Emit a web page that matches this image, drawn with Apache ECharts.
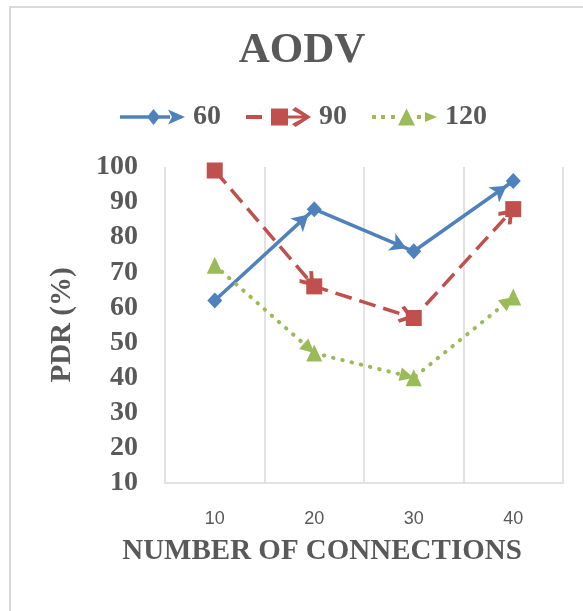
<!DOCTYPE html>
<html>
<head>
<meta charset="utf-8">
<script src="https://cdn.jsdelivr.net/npm/echarts@6/dist/echarts.min.js"></script>
<style>
  html, body { margin: 0; padding: 0; background: #ffffff; }
  #chart { width: 583px; height: 611px; }
</style>
</head>
<body>
<div id="chart"></div>
<script>
// Packet delivery ratio for AODV, by number of connections and node count
const categories = ['10', '20', '30', '40'];
const seriesNames = ['60', '90', '120'];
const pdr60 = [62, 88, 76, 96];
const pdr90 = [99, 66, 57, 88];
const pdr120 = [72, 47, 40, 63];
const yTicks = { min: 10, max: 100, step: 10 };

const TEXT = '#595959';
const GRID = '#d9d9d9';
const SERIF = '"Liberation Serif", "Times New Roman", serif';

// legend glyphs: line + marker + arrowhead, drawn in a 65 x 20 box
const corners = 'M0 0 L0.01 0 L0 0.01 Z M65 20 L64.99 20 L65 19.99 Z ';
const legendIcons = {
  '60': 'path://' + corners +
    'M0 8.3 H50 V11.7 H0 Z M33.5 2 L40 10 L33.5 18 L27 10 Z M65 10 L48 17.5 L52 10 L48 2.5 Z',
  '90': 'path://' + corners +
    'M0 8 H16 V12 H0 Z M25 1.5 H42 V18.5 H25 Z M42 8.5 H60 V11.5 H42 Z ' +
    'M46 3 L49.5 0 L65 10 L49.5 20 L46 17 L59 10 Z',
  '120': 'path://' + corners +
    'M0 8 H4 V12 H0 Z M9 8 H13 V12 H9 Z M19 8 H23 V12 H19 Z ' +
    'M34.5 1.5 L43 18.5 L26 18.5 Z M45 8 H49 V12 H45 Z M65 10 L53 15 L53 5 Z'
};

// arrowheads placed at the end of every segment
function segments(values) {
  const out = [];
  for (let i = 0; i < values.length - 1; i++) {
    out.push([
      { coord: [categories[i], values[i]] },
      { coord: [categories[i + 1], values[i + 1]] }
    ]);
  }
  return out;
}

function arrowMarks(values, color, symbol, size) {
  return {
    silent: true,
    animation: false,
    symbol: ['none', symbol],
    symbolSize: size,
    symbolOffset: [0, [0, size[1] / 2]],
    label: { show: false },
    emphasis: { disabled: true },
    lineStyle: { color: color, width: 0, type: 'solid' },
    data: segments(values)
  };
}

const chevron = 'path://M10 0 L20 13 L17 16 L10 7 L3 16 L0 13 Z';

const chart = echarts.init(document.getElementById('chart'), null, { renderer: 'canvas' });

chart.setOption({
  animation: false,
  backgroundColor: '#ffffff',
  graphic: [{
    type: 'rect',
    shape: { x: 10, y: 7, width: 620, height: 700 },
    style: { fill: 'none', stroke: GRID, lineWidth: 2 },
    silent: true,
    z: -1
  }],
  title: {
    text: 'AODV',
    left: 297,
    textAlign: 'center',
    top: 24,
    textStyle: { fontFamily: SERIF, fontWeight: 'bold', fontSize: 43, color: TEXT }
  },
  legend: {
    left: 120,
    top: 103,
    padding: 0,
    itemWidth: 65,
    itemHeight: 20,
    itemGap: 25,
    symbolKeepAspect: false,
    selectedMode: false,
    textStyle: { fontFamily: SERIF, fontWeight: 'bold', fontSize: 28, color: TEXT, padding: [0, 0, 0, 3] },
    data: seriesNames.map(n => ({ name: n, icon: legendIcons[n] }))
  },
  grid: { left: 165, right: 20, top: 167, bottom: 128, outerBoundsMode: 'none' },
  xAxis: {
    type: 'category',
    data: categories,
    boundaryGap: true,
    axisLine: { show: true, lineStyle: { color: GRID, width: 1.5 } },
    axisTick: { show: false },
    splitLine: { show: true, lineStyle: { color: GRID, width: 1.5 } },
    axisLabel: { margin: 27, fontFamily: '"Liberation Sans", Arial, sans-serif', fontSize: 18, color: TEXT },
    name: 'NUMBER OF CONNECTIONS',
    nameLocation: 'middle',
    nameGap: 54,
    nameMoveOverlap: false,
    nameTextStyle: { fontFamily: SERIF, fontWeight: 'bold', fontSize: 29, color: TEXT, padding: [0, 84, 0, 0] }
  },
  yAxis: {
    type: 'value',
    min: yTicks.min,
    max: yTicks.max,
    interval: yTicks.step,
    axisLine: { show: false },
    axisTick: { show: false },
    splitLine: { show: false },
    axisLabel: { margin: 27, fontFamily: SERIF, fontWeight: 'bold', fontSize: 28, color: TEXT },
    name: 'PDR (%)',
    nameLocation: 'middle',
    nameGap: 88,
    nameMoveOverlap: false,
    nameTextStyle: { fontFamily: SERIF, fontWeight: 'bold', fontSize: 29, color: TEXT }
  },
  series: [
    {
      name: seriesNames[0],
      type: 'line',
      data: pdr60,
      color: '#4F81BD',
      symbol: 'diamond',
      symbolSize: [15, 16],
      lineStyle: { width: 3.5, type: 'solid' },
      itemStyle: { color: '#4F81BD' },
      markLine: arrowMarks(pdr60, '#4F81BD', 'arrow', [14, 16])
    },
    {
      name: seriesNames[1],
      type: 'line',
      data: pdr90,
      color: '#C0504D',
      symbol: 'rect',
      symbolSize: 16,
      lineStyle: { width: 3.5, type: [17, 8] },
      itemStyle: { color: '#C0504D' },
      markLine: arrowMarks(pdr90, '#C0504D', chevron, [18, 15])
    },
    {
      name: seriesNames[2],
      type: 'line',
      data: pdr120,
      color: '#9BBB59',
      symbol: 'triangle',
      symbolSize: [16, 17],
      lineStyle: { width: 4, type: [0.5, 9], cap: 'round' },
      itemStyle: { color: '#9BBB59' },
      markLine: arrowMarks(pdr120, '#9BBB59', 'triangle', [14, 14])
    }
  ]
});
</script>
</body>
</html>
